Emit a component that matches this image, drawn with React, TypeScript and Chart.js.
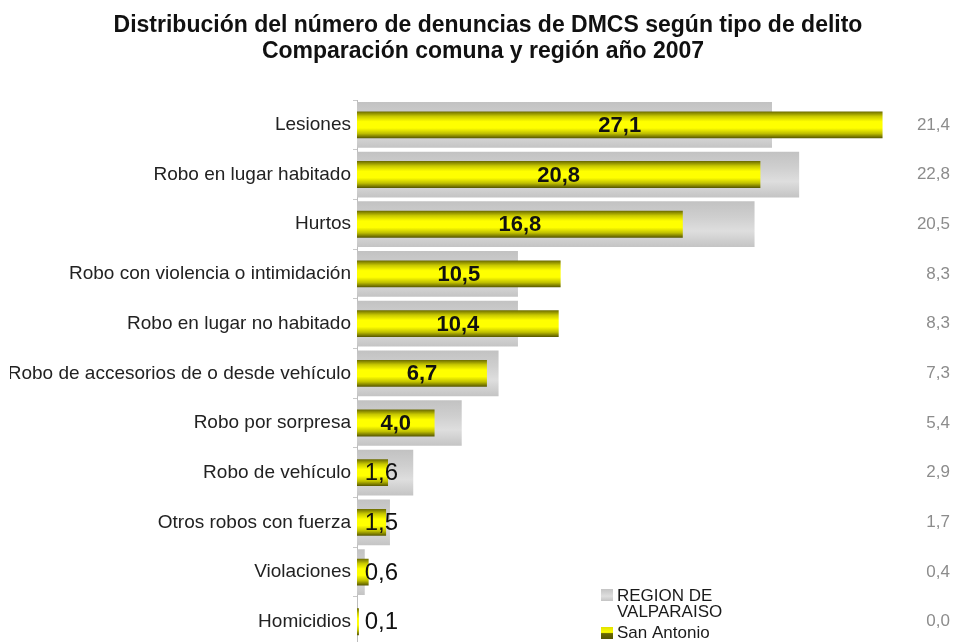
import React, { useEffect, useRef } from "react";
import { Chart, registerables } from "chart.js";

Chart.register(...registerables);

const titleLines = [
  "Distribución del número de denuncias de DMCS según tipo de delito",
  "Comparación comuna y región año 2007",
];
const categories = [
  "Lesiones",
  "Robo en lugar habitado",
  "Hurtos",
  "Robo con violencia o intimidación",
  "Robo en lugar no habitado",
  "Robo de accesorios de o desde vehículo",
  "Robo por sorpresa",
  "Robo de vehículo",
  "Otros robos con fuerza",
  "Violaciones",
  "Homicidios",
];
const regionLegend = ["REGION DE", "VALPARAISO"];
const comunaLegend = "San Antonio";
const regionValues = [21.4, 22.8, 20.5, 8.3, 8.3, 7.3, 5.4, 2.9, 1.7, 0.4, 0.0];
const comunaValues = [27.1, 20.8, 16.8, 10.5, 10.4, 6.7, 4.0, 1.6, 1.5, 0.6, 0.1];
const xMax = 28;

const FONT = "'Liberation Sans', Arial, sans-serif";
const fmt = (v: number) => v.toFixed(1).replace(".", ",");

const grayStops: [number, string][] = [
  [0, "#c2c2c2"],
  [0.35, "#cfcfcf"],
  [0.65, "#dedede"],
  [1, "#c4c4c4"],
];
const yellowStops: [number, string][] = [
  [0, "#6a6a00"],
  [0.18, "#c8c800"],
  [0.38, "#ffff00"],
  [0.62, "#ffff00"],
  [0.82, "#c0c000"],
  [1, "#555500"],
];

function barGradient(ctx: any, stops: [number, string][], frac: number) {
  const chart = ctx.chart;
  const y = chart.scales && chart.scales.y;
  if (!y || ctx.type !== "data" || !chart.chartArea) return stops[2][1];
  const center = y.getPixelForValue(ctx.dataIndex);
  const band = (y.bottom - y.top) / categories.length;
  const half = (band * frac) / 2;
  const g = chart.ctx.createLinearGradient(0, center - half, 0, center + half);
  stops.forEach(([o, c]) => g.addColorStop(o, c));
  return g;
}

const decorPlugin = {
  id: "decor",
  afterDatasetsDraw(chart: any) {
    const ctx = chart.ctx;
    const xs = chart.scales.x;
    const ys = chart.scales.y;
    const x0 = xs.getPixelForValue(0);
    ctx.save();
    ctx.textBaseline = "middle";
    // comuna values
    comunaValues.forEach((v, i) => {
      const txt = fmt(v);
      const yc = ys.getPixelForValue(i);
      const x1 = xs.getPixelForValue(v);
      ctx.font = `bold 22px ${FONT}`;
      const w = ctx.measureText(txt).width;
      ctx.fillStyle = "#111";
      if (x1 - x0 > w + 8) {
        ctx.textAlign = "center";
        ctx.fillText(txt, (x0 + x1) / 2, yc + 1);
      } else {
        ctx.font = `24px ${FONT}`;
        ctx.textAlign = "right";
        ctx.fillText(txt, x0 + 41, yc + 1);
      }
    });
    // region values
    ctx.font = `17px ${FONT}`;
    ctx.fillStyle = "#8c8c8c";
    ctx.textAlign = "right";
    regionValues.forEach((v, i) => {
      const yc = ys.getPixelForValue(i);
      ctx.fillText(fmt(v), 950, yc);
    });
    ctx.restore();
  },
  afterDraw(chart: any) {
    const ctx = chart.ctx;
    ctx.save();
    // title
    ctx.font = `bold 23px ${FONT}`;
    ctx.fillStyle = "#111";
    ctx.textAlign = "center";
    ctx.textBaseline = "alphabetic";
    ctx.fillText(titleLines[0], 488, 32);
    ctx.fillText(titleLines[1], 483, 58);
    // legend
    const lx = 601;
    let g = ctx.createLinearGradient(0, 589, 0, 601);
    g.addColorStop(0, "#c4c4c4");
    g.addColorStop(0.6, "#dedede");
    g.addColorStop(1, "#c4c4c4");
    ctx.fillStyle = g;
    ctx.fillRect(lx, 589, 12, 12);
    g = ctx.createLinearGradient(0, 627, 0, 639);
    g.addColorStop(0, "#e0e000");
    g.addColorStop(0.45, "#ffff00");
    g.addColorStop(0.55, "#6a6a00");
    g.addColorStop(1, "#555500");
    ctx.fillStyle = g;
    ctx.fillRect(lx, 627, 12, 12);
    ctx.font = `17px ${FONT}`;
    ctx.fillStyle = "#1a1a1a";
    ctx.textAlign = "left";
    ctx.fillText(regionLegend[0], 617, 601);
    ctx.fillText(regionLegend[1], 617, 617);
    ctx.fillText(comunaLegend, 617, 638);
    ctx.restore();
  },
};

export default function App() {
  const ref = useRef<HTMLCanvasElement | null>(null);
  useEffect(() => {
    if (!ref.current) return;
    const chart = new Chart(ref.current, {
      type: "bar",
      data: {
        labels: categories,
        datasets: [
          {
            label: regionLegend.join(" "),
            data: regionValues,
            backgroundColor: (c: any) => barGradient(c, grayStops, 0.92),
            barPercentage: 0.92,
            categoryPercentage: 1,
            grouped: false,
            order: 2,
            borderWidth: 0,
          } as any,
          {
            label: comunaLegend,
            data: comunaValues,
            backgroundColor: (c: any) => barGradient(c, yellowStops, 0.54),
            barPercentage: 0.54,
            categoryPercentage: 1,
            grouped: false,
            order: 1,
            borderWidth: 0,
          } as any,
        ],
      },
      options: {
        indexAxis: "y",
        responsive: false,
        animation: false,
        layout: { padding: { top: 100, bottom: 10, left: 10, right: 54 } },
        scales: {
          x: { type: "linear", min: 0, max: xMax, display: false },
          y: {
            type: "category",
            border: { display: true, color: "#bdbdbd", width: 1 },
            grid: {
              display: true,
              drawOnChartArea: false,
              drawTicks: true,
              tickLength: 4,
              color: "#c8c8c8",
              offset: true,
            },
            ticks: {
              font: { family: FONT, size: 19 },
              color: "#222",
              padding: 2,
              autoSkip: false,
            },
            afterFit: (s: any) => {
              s.width = 347;
            },
          },
        },
        plugins: {
          legend: { display: false },
          title: { display: false },
          tooltip: { enabled: false },
        },
      },
      plugins: [decorPlugin],
    } as any);
    return () => chart.destroy();
  }, []);
  return (
    <div
      style={{
        position: "fixed",
        top: 0,
        left: 0,
        width: 954,
        height: 642,
        overflow: "hidden",
        background: "#fff",
      }}
    >
      <canvas ref={ref} width={954} height={660} style={{ display: "block" }} />
    </div>
  );
}
